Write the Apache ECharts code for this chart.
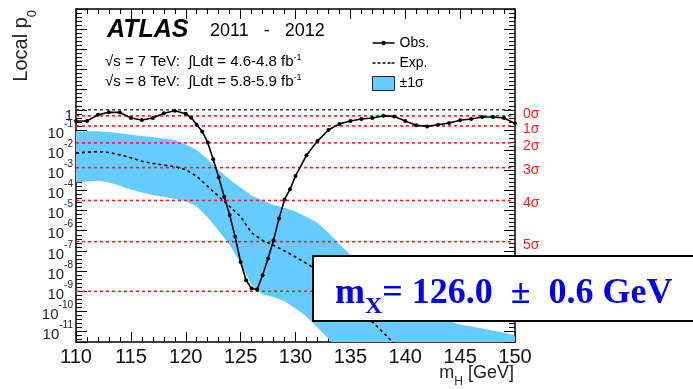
<!DOCTYPE html>
<html><head><meta charset="utf-8">
<script src="https://cdn.jsdelivr.net/npm/echarts@6/dist/echarts.min.js"></script>
<style>html,body{margin:0;padding:0;background:#fff}#c{width:693px;height:389px}</style>
</head><body><div id="c"></div>
<script>
// ---- data (local p0) ----
const obsMass = [110,111,112,113,114,115,116,117,118,119,120,120.5,121,121.5,122,122.5,123,123.5,124,124.5,125,125.5,126,126.5,127,127.5,128,128.5,129,129.5,130,131,132,133,134,135,136,137,138,139,140,141,142,143,144,145,146,147,148,149,150];
const obsP0 = [0.28,0.28,0.56,0.76,0.74,0.39,0.31,0.39,0.68,0.89,0.63,0.40,0.18,0.083,0.024,3.5e-3,4.5e-4,4.9e-5,6.0e-6,5.0e-7,2.8e-8,3.5e-9,1.35e-9,1.2e-9,6.2e-9,4.2e-8,3.4e-7,4.1e-6,3.5e-5,1.15e-4,5.2e-4,5.5e-3,0.028,0.10,0.20,0.28,0.35,0.39,0.50,0.47,0.28,0.17,0.15,0.18,0.22,0.30,0.35,0.44,0.44,0.39,0.21];
const expMass = [110,111,112,113,114,115,116,117,118,119,120,121,122,123,124,125,126,127,128,129,130,131,132,133,134,135,136,137,138,139,140];
const expP0 = [7.1e-3,7.9e-3,8.5e-3,7.6e-3,5.8e-3,4.2e-3,2.8e-3,2.2e-3,1.8e-3,1.5e-3,1.07e-3,5.0e-4,1.6e-4,5.0e-5,1.6e-5,5.0e-6,7.9e-7,3.3e-7,1.9e-7,1.0e-7,5.0e-8,2.4e-8,1.07e-8,3.3e-9,1.0e-9,3.2e-10,9.5e-11,3.0e-11,8.9e-12,2.5e-12,7.9e-13];
const bandMass = [110,111,112,113,114,115,116,117,118,119,120,121,122,123,124,125,126,127,128,129,130,131,132,133,134,135,136,137,138,139,140,141,142,143,144,145,146,147,148,149,150];
const bandUp = [0.083,0.085,0.085,0.079,0.068,0.058,0.050,0.044,0.038,0.032,0.019,0.010,3.5e-3,1.0e-3,3.5e-4,1.4e-4,5.6e-5,3.2e-5,1.9e-5,1.4e-5,8.9e-6,5.0e-6,2.5e-6,7.9e-7,2.2e-7,6.3e-8,2.2e-8,7.9e-9,2.8e-9,1.0e-9,4.5e-10,2.0e-10,1.0e-10,5.6e-11,3.2e-11,2.2e-11,1.8e-11,1.4e-11,1.1e-11,8.9e-12,6.3e-12];
const bandLo = [2.5e-4,2.8e-4,3.0e-4,2.5e-4,1.7e-4,1.1e-4,7.9e-5,6.0e-5,4.8e-5,3.8e-5,3.0e-5,1.6e-5,4.5e-6,1.0e-6,2.0e-7,2.5e-8,2.0e-9,7.1e-10,5.0e-10,3.2e-10,1.4e-10,5.6e-11,1.6e-11,4.5e-12,1.1e-12,3.2e-13,1e-13,1e-13,1e-13,1e-13,1e-13,1e-13,1e-13,1e-13,1e-13,1e-13,1e-13,1e-13,1e-13,1e-13,1e-13];
const sigmaP0 = [0.5,0.1587,0.02275,1.35e-3,3.17e-5,2.87e-7,9.87e-10];
const sigmaLabels = ['0σ','1σ','2σ','3σ','4σ','5σ',''];
const massRange = [110, 150];
const refP0 = 1;

const FONT = '"Liberation Sans", Arial, sans-serif';
const LOGMIN = -11.52, LOGMAX = 5;

const chart = echarts.init(document.getElementById('c'));

const tickAxis = (pos, labels) => ({
  type: 'value', min: LOGMIN, max: LOGMAX, splitNumber: 16, position: pos,
  axisLine: {show: true, onZero: false, lineStyle: {color: '#000', width: 1.5}},
  axisTick: {show: true, inside: true, length: 11, lineStyle: {color: '#000', width: 1}},
  minorTick: {show: true, splitNumber: 5, length: 6, lineStyle: {color: '#000', width: 1}},
  splitLine: {show: false}, minorSplitLine: {show: false},
  axisLabel: labels ? {
    show: true, margin: 3, showMinLabel: true, showMaxLabel: true,
    formatter: function (v) {
      if (Math.abs(v - Math.round(v)) > 1e-6 || v > 0.5) return '';
      const n = Math.round(v);
      if (n === 0) return '{one|1}';
      return '{b|10}{s|' + n + '}';
    },
    rich: {
      one: {fontSize: 15, fontFamily: FONT, color: '#222', padding: [12, 0, 0, 0]},
      b: {fontSize: 15, fontFamily: FONT, color: '#222', lineHeight: 22, verticalAlign: 'bottom'},
      s: {fontSize: 10, fontFamily: FONT, color: '#222', lineHeight: 22, verticalAlign: 'top'}
    }
  } : {show: false}
});

const xAxisBase = (pos, labels) => ({
  type: 'value', min: 110, max: 150, interval: 5, position: pos,
  axisLine: {show: true, onZero: false, lineStyle: {color: '#000', width: 1.5}},
  axisTick: {show: true, inside: true, length: 10, lineStyle: {color: '#000', width: 1}},
  minorTick: {show: true, splitNumber: 5, length: 5, lineStyle: {color: '#000', width: 1}},
  splitLine: {show: false},
  axisLabel: labels ? {show: true, fontSize: 20, color: '#111', fontFamily: FONT, margin: 5} : {show: false}
});

const levelSeries = sigmaP0.map((p, i) => ({
  name: 'lvl' + i, type: 'line', xAxisIndex: 0, yAxisIndex: 0, z: 2, silent: true,
  data: massRange.map(m => [m, p]),
  symbol: 'none',
  lineStyle: {color: '#ff1a1a', type: [3, 3], width: 1.6},
  endLabel: sigmaLabels[i] ? {show: true, formatter: sigmaLabels[i], color: '#ff1a1a', fontSize: 14,
    fontFamily: FONT, distance: 8, offset: [0, i === 0 ? -2 : 3]} : {show: false}
}));
levelSeries.push({
  name: 'lvlRef', type: 'line', xAxisIndex: 0, yAxisIndex: 0, z: 2, silent: true,
  data: massRange.map(m => [m, refP0]), symbol: 'none',
  lineStyle: {color: '#444', type: [3, 3], width: 1.6}
});

const option = {
  animation: false,
  backgroundColor: '#fff',
  grid: {left: 76, right: 178, top: 9, bottom: 47, containLabel: false},
  xAxis: [xAxisBase('bottom', true), xAxisBase('top', false)],
  yAxis: [
    {type: 'log', logBase: 10, min: Math.pow(10, LOGMIN), max: Math.pow(10, LOGMAX), show: false},
    tickAxis('left', true),
    tickAxis('right', false)
  ],
  legend: {
    left: 372, top: 36, padding: 0, orient: 'vertical', itemWidth: 22, itemHeight: 14, itemGap: 6,
    textStyle: {fontSize: 14, fontFamily: FONT, color: '#000'},
    data: [
      {name: 'Obs.', icon: 'path://M0,0M22,14M0,6.3L22,6.3L22,7.7L0,7.7Z M13.2,7A2.2,2.2 0 1 1 8.8,7A2.2,2.2 0 1 1 13.2,7Z', itemStyle: {color: '#000'}},
      {name: 'Exp.', icon: 'path://M0,0M22,14M0,6.2h3v1.6h-3z M5,6.2h3v1.6h-3z M10,6.2h3v1.6h-3z M15,6.2h3v1.6h-3z M19,6.2h3v1.6h-3z', itemStyle: {color: '#000'}},
      {name: '±1σ', icon: 'rect', itemStyle: {color: '#66ccff', borderColor: '#222', borderWidth: 1}}
    ]
  },
  series: [
    {
      name: '±1σ', type: 'custom', xAxisIndex: 0, yAxisIndex: 0, clip: true, z: 1,
      itemStyle: {color: '#66ccff'},
      data: [[bandMass[0], bandUp[0]]],
      renderItem: function (params, api) {
        const pts = [];
        for (let i = 0; i < bandMass.length; i++) pts.push(api.coord([bandMass[i], bandUp[i]]));
        for (let i = bandMass.length - 1; i >= 0; i--) pts.push(api.coord([bandMass[i], bandLo[i]]));
        return {type: 'polygon', shape: {points: pts}, style: {fill: '#66ccff'}};
      }
    }
  ].concat(levelSeries).concat([
    {
      name: 'Exp.', type: 'line', xAxisIndex: 0, yAxisIndex: 0, z: 3,
      data: expMass.map((m, i) => [m, expP0[i]]),
      symbol: 'none', smooth: false,
      lineStyle: {color: '#000', type: [3, 3], width: 1.6},
      itemStyle: {color: '#000'}
    },
    {
      name: 'Obs.', type: 'line', xAxisIndex: 0, yAxisIndex: 0, z: 4,
      data: obsMass.map((m, i) => [m, obsP0[i]]),
      symbol: 'circle', symbolSize: 4, showSymbol: true,
      lineStyle: {color: '#000', width: 1.6},
      itemStyle: {color: '#000'}
    }
  ]),
  graphic: [
    {type: 'text', x: 107, y: 30, style: {text: 'ATLAS', font: 'italic bold 25px "Liberation Sans"', fill: '#000', verticalAlign: 'middle'}},
    {type: 'text', x: 210, y: 31, style: {text: '2011   -   2012', font: '18px "Liberation Sans"', fill: '#000', verticalAlign: 'middle'}},
    {type: 'text', x: 105, y: 62, style: {text: '√s = 7 TeV:  ∫Ldt = 4.6-4.8 fb{s|-1}', font: '15px "Liberation Sans"', fill: '#000', verticalAlign: 'middle',
      rich: {s: {fontSize: 9, fontFamily: 'Liberation Sans', fill: '#000', verticalAlign: 'top', lineHeight: 18}}}},
    {type: 'text', x: 105, y: 82, style: {text: '√s = 8 TeV:  ∫Ldt = 5.8-5.9 fb{s|-1}', font: '15px "Liberation Sans"', fill: '#000', verticalAlign: 'middle',
      rich: {s: {fontSize: 9, fontFamily: 'Liberation Sans', fill: '#000', verticalAlign: 'top', lineHeight: 18}}}},
    {type: 'text', x: 25, y: 10, rotation: Math.PI / 2, style: {text: '{a|Local p}{b|0}', align: 'right', verticalAlign: 'middle',
      rich: {a: {fontSize: 20, fontFamily: 'Liberation Sans', fill: '#222', lineHeight: 28, verticalAlign: 'top'},
             b: {fontSize: 13, fontFamily: 'Liberation Sans', fill: '#222', lineHeight: 28, verticalAlign: 'bottom'}}}},
    {type: 'text', x: 514, y: 376, style: {text: '{a|m}{b|H}{a| [GeV]}', align: 'right', verticalAlign: 'middle',
      rich: {a: {fontSize: 18, fontFamily: 'Liberation Sans', fill: '#222', lineHeight: 24, verticalAlign: 'top'},
             b: {fontSize: 12, fontFamily: 'Liberation Sans', fill: '#222', lineHeight: 24, verticalAlign: 'bottom'}}}},
    {type: 'rect', z: 100, shape: {x: 313, y: 256, width: 420, height: 65}, style: {fill: '#fff', stroke: '#000', lineWidth: 2}},
    {type: 'text', z: 101, x: 335, y: 297, style: {text: '{m|m}{x|X}{t|= 126.0  ±  0.6 GeV}', verticalAlign: 'middle',
      rich: {m: {fontSize: 36, fontWeight: 'bold', fontFamily: 'Liberation Serif', fill: '#0000ee', lineHeight: 43, verticalAlign: 'top'},
             x: {fontSize: 24, fontWeight: 'bold', fontFamily: 'Liberation Serif', fill: '#0000ee', lineHeight: 43, verticalAlign: 'bottom'},
             t: {fontSize: 36, fontWeight: 'bold', fontFamily: 'Liberation Serif', fill: '#0000ee', lineHeight: 43, verticalAlign: 'top'}}}}
  ]
};
chart.setOption(option);
</script></body></html>
